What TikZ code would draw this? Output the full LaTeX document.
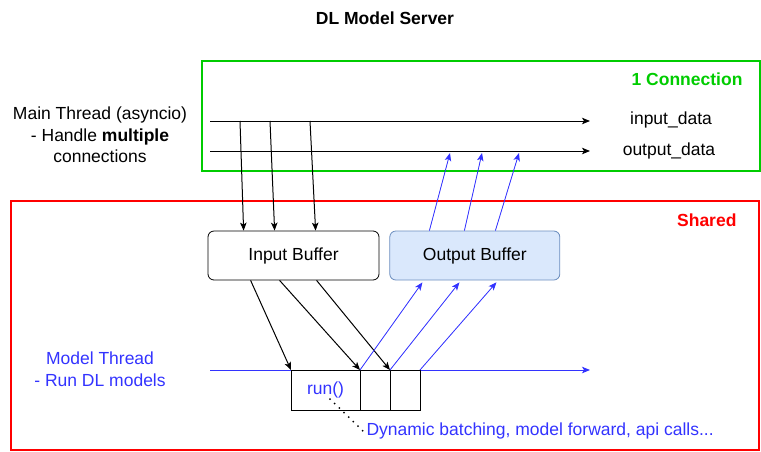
\documentclass[tikz,border=0pt]{standalone}
\usepackage{fontspec}
\setmainfont{Liberation Sans}
\usepackage{xcolor}
\usepackage{tikz}
\usetikzlibrary{positioning,shapes,arrows.meta}
\definecolor{vert}{HTML}{00CC00}
\definecolor{bleu}{HTML}{3333FF}
\definecolor{bleuclair}{HTML}{DAE8FC}
\definecolor{bordbleu}{HTML}{6C8EBF}

\begin{document}
\begin{tikzpicture}[x=1pt, y=-1pt, font=\fontsize{17.5}{21.5}\selectfont,
	fleche/.style={-{Stealth[length=8pt,width=6.5pt,inset=2pt]}, line width=1pt},
	zone/.style={draw, rectangle, line width=1.6pt, anchor=north west},
	tampon/.style={draw, rectangle, rounded corners=6pt, minimum width=171pt, minimum height=49pt, line width=0.8pt},
	case/.style={draw, rectangle, minimum width=30pt, minimum height=40pt, inner sep=0pt, outer sep=0pt, line width=0.8pt}]
				\useasboundingbox (0,0) rectangle (761,451);
				
				% Titre
				\node[font=\fontsize{17.5}{21}\selectfont\bfseries] (titre) at (385,18) {DL Model Server};
				
				% Zones
				\node[zone, draw=vert, minimum width=558pt, minimum height=110pt] (connexion) at (201,60) {};
				\node[text=vert, font=\fontsize{17.5}{21}\selectfont\bfseries, anchor=east] (labelconn) at (746,79) {1 Connection};
				\node[zone, draw=red, minimum width=748pt, minimum height=249pt] (partage) at (10,200) {};
				\node[text=red, font=\fontsize{17.5}{21}\selectfont\bfseries, anchor=east] (labelpartage) at (740,220) {Shared};
				
				% Thread principal
				\node[align=center] (principal) at (100,135) {Main Thread (asyncio)\\- Handle \textbf{multiple}\\connections};
				\coordinate (in0) at (210,121);
				\coordinate (in1) at (590,121);
				\coordinate (out0) at (210,151);
				\coordinate (out1) at (590,151);
				\draw[fleche] (in0) -- (in1);
				\draw[fleche] (out0) -- (out1);
				\node (inputdata) at (671,120) {input\_data};
				\node (outputdata) at (669,151) {output\_data};
				
				% Tampons
				\node[tampon] (entree) at (293.5,255.5) {Input Buffer};
				\node[tampon, fill=bleuclair, draw=bordbleu, minimum width=170pt, right=10pt of entree] (sortie) {Output Buffer};
				
				% Thread du modele
				\node[text=bleu, align=center] (modele) at (100,369) {Model Thread\\- Run DL models};
				\coordinate (m0) at (210,370);
				\coordinate (m1) at (590,370);
				\draw[fleche, draw=bleu, fill=bleu] (m0) -- (m1);
				\node[case, minimum width=69pt, anchor=north west, text=bleu] (run) at (291,370) {run()};
				\node[case, right=0pt of run] (case2) {};
				\node[case, right=0pt of case2] (case3) {};
				
				% Entrees vers le tampon
				\foreach \x/\d in {240/36, 270/67, 310/108} {
					\coordinate (e\x) at (\x,121);
					\draw[fleche] (e\x) -- ([xshift=\d pt]entree.north west);
				}
				\foreach \d/\cible in {43/run, 72/case2, 109/case3} {
					\draw[fleche] ([xshift=\d pt]entree.south west) -- (\cible.north west);
				}
				
				% Sorties vers le tampon et la connexion
				\foreach \source/\d in {run/33, case2/70, case3/107} {
					\draw[fleche, draw=bleu, fill=bleu, line width=0.8pt] (\source.north east) -- ([xshift=\d pt, yshift=-2pt]sortie.south west);
				}
				\foreach \d/\x in {40/450, 75/482, 106/519} {
					\coordinate (s\x) at (\x,153);
					\draw[fleche, draw=bleu, fill=bleu, line width=0.8pt] ([xshift=\d pt]sortie.north west) -- (s\x);
				}
				
				% Note
				\node[text=bleu, anchor=west] (note) at (363,431) {Dynamic batching, model forward, api calls...};
				\coordinate (pt) at (330,399);
				\draw[line width=2pt, line cap=round, dash pattern=on 0pt off 6.5pt] (pt) -- (note.west);
			\end{tikzpicture}
\end{document}
